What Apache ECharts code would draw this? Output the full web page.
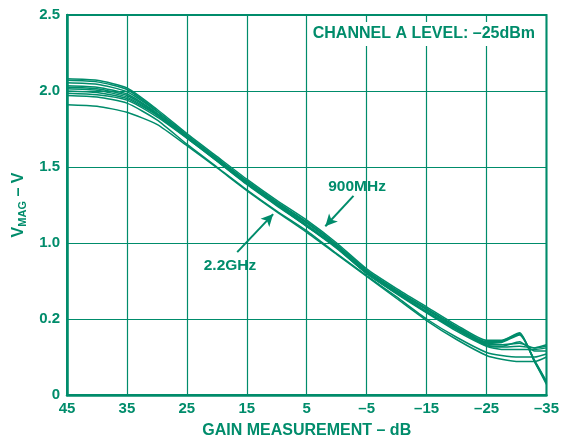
<!DOCTYPE html>
<html>
<head>
<meta charset="utf-8">
<script src="https://cdn.jsdelivr.net/npm/echarts@6/dist/echarts.min.js"></script>
<style>
html,body{margin:0;padding:0;background:#fff;overflow:hidden;}
#chart{width:562px;height:444px;}
</style>
</head>
<body>
<div id="chart"></div>
<script>
// Gain measurement (dB) – x values
const gainDb = [45, 40, 35, 30, 25, 20, 15, 10, 5, 0, -5, -10, -15, -20, -25, -27.5, -30.5, -33, -35];
// VMAG curves (V)
const vmag1 = [2.08, 2.07, 2.02, 1.88, 1.72, 1.57, 1.42, 1.28, 1.15, 1.00, 0.83, 0.70, 0.58, 0.46, 0.36, 0.36, 0.41, 0.22, 0.07];
const vmag2 = [2.07, 2.06, 2.01, 1.87, 1.71, 1.56, 1.41, 1.27, 1.14, 0.99, 0.82, 0.69, 0.57, 0.45, 0.35, 0.355, 0.405, 0.22, 0.08];
const vmag3 = [2.055, 2.045, 1.995, 1.865, 1.705, 1.555, 1.405, 1.265, 1.135, 0.985, 0.815, 0.685, 0.565, 0.445, 0.345, 0.35, 0.40, 0.225, 0.085];
const vmag4 = [2.035, 2.025, 1.98, 1.855, 1.70, 1.55, 1.40, 1.26, 1.13, 0.98, 0.81, 0.68, 0.56, 0.44, 0.34, 0.345, 0.395, 0.23, 0.09];
const vmag5 = [2.025, 2.015, 1.97, 1.85, 1.70, 1.55, 1.395, 1.255, 1.12, 0.975, 0.805, 0.675, 0.55, 0.435, 0.335, 0.33, 0.34, 0.31, 0.33];
const vmag6 = [2.015, 2.005, 1.96, 1.845, 1.695, 1.545, 1.39, 1.25, 1.115, 0.97, 0.80, 0.67, 0.545, 0.43, 0.33, 0.32, 0.35, 0.29, 0.29];
const vmag7 = [2.00, 1.99, 1.95, 1.84, 1.69, 1.54, 1.39, 1.25, 1.11, 0.97, 0.80, 0.67, 0.545, 0.43, 0.325, 0.315, 0.32, 0.31, 0.32];
const vmag8 = [1.985, 1.975, 1.94, 1.83, 1.69, 1.54, 1.385, 1.245, 1.11, 0.965, 0.80, 0.665, 0.54, 0.42, 0.32, 0.30, 0.30, 0.30, 0.31];
const vmag9 = [1.97, 1.96, 1.92, 1.81, 1.65, 1.50, 1.35, 1.21, 1.08, 0.93, 0.785, 0.645, 0.50, 0.38, 0.28, 0.26, 0.25, 0.25, 0.27];
const vmag10 = [1.91, 1.90, 1.86, 1.78, 1.64, 1.495, 1.345, 1.205, 1.07, 0.925, 0.78, 0.635, 0.49, 0.365, 0.26, 0.235, 0.22, 0.22, 0.25];
const curves = [vmag1, vmag2, vmag3, vmag4, vmag5, vmag6, vmag7, vmag8, vmag9, vmag10];

// Tick labels (as printed on the original)
const yTickValues = [0, 0.5, 1.0, 1.5, 2.0, 2.5];
const yTickLabels = ['0', '0.2', '1.0', '1.5', '2.0', '2.5'];

// Annotations (data coordinates)
const label900 = {text: '900MHz', at: [-3.4, 1.37]};
const arrow900 = [[-2.8, 1.31], [1.9, 1.11]];
const label22 = {text: '2.2GHz', at: [17.8, 0.85]};
const arrow22 = [[16.6, 0.94], [10.6, 1.19]];
const channelText = 'CHANNEL A LEVEL: \u201325dBm';

const C = '#008c6b';
const FONT = 'Liberation Sans';

function fmtX(v) { return v < 0 ? '\u2013' + Math.abs(v) : String(v); }
function fmtY(v) {
  for (let i = 0; i < yTickValues.length; i++) if (Math.abs(yTickValues[i] - v) < 1e-6) return yTickLabels[i];
  return '';
}

const series = curves.map((c) => ({
  type: 'line',
  data: gainDb.map((x, j) => [x, c[j]]),
  showSymbol: false,
  smooth: 0.2,
  lineStyle: {color: C, width: 1.5},
  silent: true,
  z: 3
}));

series.push({
  type: 'scatter',
  data: [],
  markLine: {
    silent: true,
    symbol: ['none', 'arrow'],
    symbolSize: [9, 12],
    label: {show: false},
    lineStyle: {color: C, width: 2, type: 'solid'},
    data: [
      [{coord: arrow900[0]}, {coord: arrow900[1]}],
      [{coord: arrow22[0]}, {coord: arrow22[1]}]
    ]
  },
  markPoint: {
    silent: true,
    symbol: 'circle',
    symbolSize: 0,
    label: {show: true, color: C, fontFamily: FONT, fontWeight: 'bold', fontSize: 15.5, position: 'inside'},
    data: [
      {coord: label900.at, value: label900.text, label: {formatter: label900.text}},
      {coord: label22.at, value: label22.text, label: {formatter: label22.text}}
    ]
  }
});

const chart = echarts.init(document.getElementById('chart'), null, {renderer: 'canvas'});
chart.setOption({
  animation: false,
  backgroundColor: '#fff',
  title: {
    text: channelText,
    right: 23,
    top: 22,
    padding: [4, 4],
    backgroundColor: '#fff',
    textStyle: {color: C, fontFamily: FONT, fontWeight: 'bold', fontSize: 16}
  },
  grid: {left: 67, right: 15, top: 15, bottom: 47, show: true, borderColor: C, borderWidth: 2, backgroundColor: 'transparent'},
  xAxis: {
    type: 'value', min: -35, max: 45, interval: 10, inverse: true,
    name: 'GAIN MEASUREMENT \u2013 dB', nameLocation: 'middle', nameGap: 28,
    nameTextStyle: {color: C, fontFamily: FONT, fontWeight: 'bold', fontSize: 16},
    axisLine: {show: true, onZero: false, lineStyle: {color: C, width: 2.5}},
    axisTick: {show: false},
    splitLine: {show: true, lineStyle: {color: C, width: 1.2}},
    axisLabel: {color: C, fontFamily: FONT, fontWeight: 'bold', fontSize: 15, margin: 6, formatter: fmtX}
  },
  yAxis: {
    type: 'value', min: 0, max: 2.5, interval: 0.5,
    name: '{v|V}{s|MAG}{v| \u2013 V}', nameLocation: 'middle', nameGap: 39,
    nameTextStyle: {
      color: C, fontFamily: FONT, fontWeight: 'bold', fontSize: 16,
      rich: {
        v: {color: C, fontFamily: FONT, fontWeight: 'bold', fontSize: 16},
        s: {color: C, fontFamily: FONT, fontWeight: 'bold', fontSize: 11, padding: [8, 0, 0, 0]}
      }
    },
    axisLine: {show: true, onZero: false, lineStyle: {color: C, width: 2.5}},
    axisTick: {show: false},
    splitLine: {show: true, lineStyle: {color: C, width: 1.2}},
    axisLabel: {color: C, fontFamily: FONT, fontWeight: 'bold', fontSize: 15, margin: 7, formatter: fmtY}
  },
  series: series
});
</script>
</body>
</html>
